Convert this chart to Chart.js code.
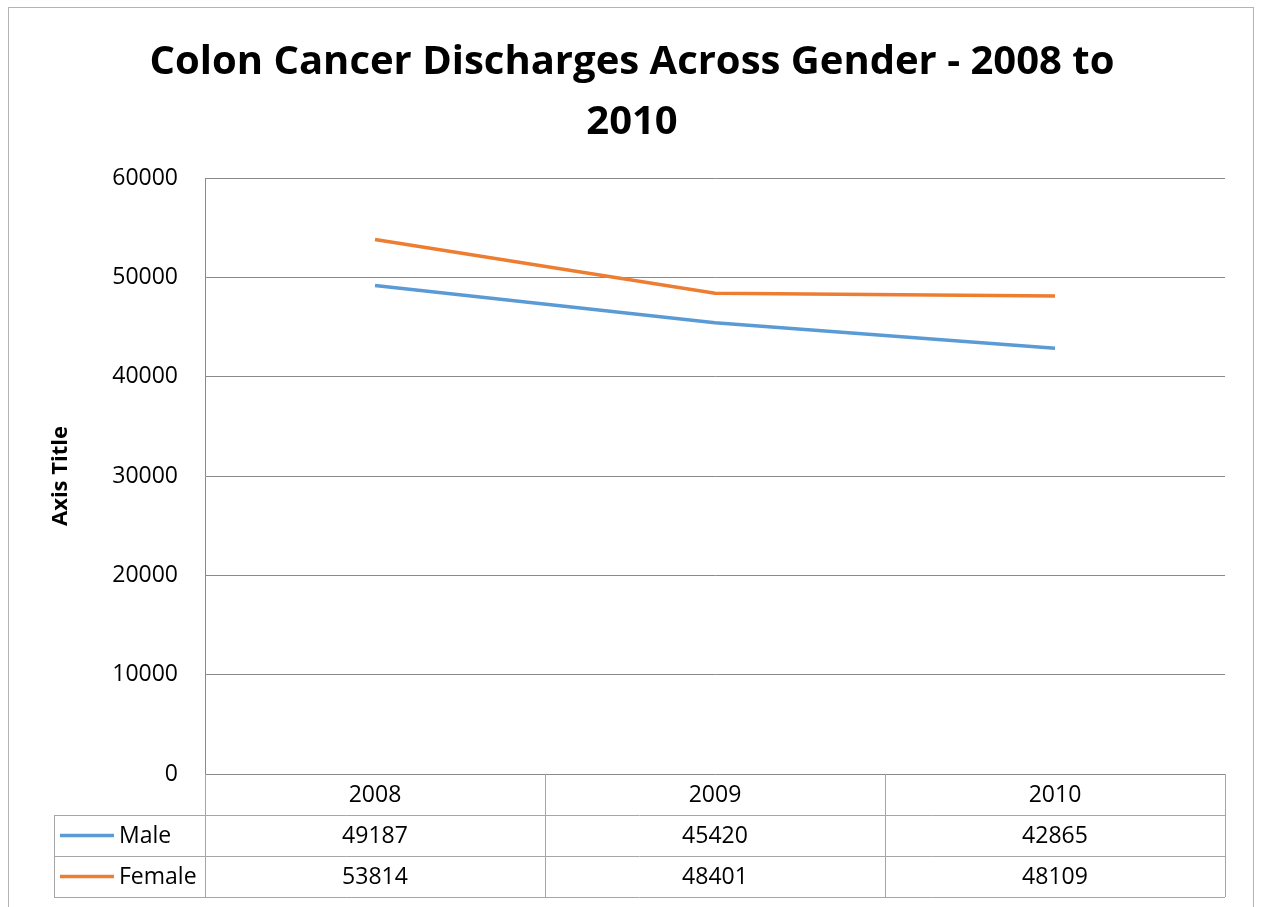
<!DOCTYPE html>
<html lang="en">
<head>
  <meta charset="UTF-8">
  <title>Colon Cancer Discharges Across Gender</title>
  <script src="https://cdn.jsdelivr.net/npm/chart.js"></script>
  <style>
    html, body { margin: 0; padding: 0; background: #fff; }
    #wrap { width: 1261px; height: 907px; position: relative; }
  </style>
</head>
<body>
  <div id="wrap"><canvas id="chart" width="1261" height="907"></canvas></div>

  <script>
    const years = ['2008', '2009', '2010'];
    const male = [49187, 45420, 42865];
    const female = [53814, 48401, 48109];
    const yTicks = [0, 10000, 20000, 30000, 40000, 50000, 60000];
    const titleLines = ['Colon Cancer Discharges Across Gender - 2008 to', '2010'];

    const series = [
      { name: 'Male', values: male, color: '#5B9BD5' },
      { name: 'Female', values: female, color: '#ED7D31' }
    ];

    const textFont = '23px "Open Sans", "Liberation Sans", sans-serif';
    const gridColor = '#8a8a8a';
    const tableColor = '#a6a6a6';

    // frame, title, axis title and the data table under the plot
    const excelBits = {
      id: 'excelBits',
      beforeDraw(chart) {
        const ctx = chart.ctx;
        ctx.save();
        ctx.fillStyle = '#fff';
        ctx.fillRect(0, 0, chart.width, chart.height);
        ctx.strokeStyle = '#b4b4b4';
        ctx.lineWidth = 1;
        ctx.strokeRect(8.5, 7.5, 1245, 960);
        ctx.restore();
      },
      afterDraw(chart) {
        const ctx = chart.ctx;
        const area = chart.chartArea;
        const x = chart.scales.x;
        const colW = (area.right - area.left) / years.length;
        const rowH = 41;
        const legendLeft = 54;

        ctx.save();
        // title
        ctx.fillStyle = '#000';
        ctx.textAlign = 'center';
        ctx.textBaseline = 'alphabetic';
        ctx.font = 'bold 40px "Open Sans", sans-serif';
        ctx.fillText(titleLines[0], 632, 74);
        ctx.fillText(titleLines[1], 632, 134);

        // rotated axis title
        ctx.save();
        ctx.translate(67, (area.top + area.bottom) / 2);
        ctx.rotate(-Math.PI / 2);
        ctx.font = 'bold 22px "Open Sans", sans-serif';
        ctx.textBaseline = 'alphabetic';
        ctx.fillText('Axis Title', 0, 0);
        ctx.restore();

        // table grid
        ctx.strokeStyle = tableColor;
        ctx.lineWidth = 1;
        ctx.beginPath();
        for (let r = 1; r <= series.length + 1; r++) {
          const y = Math.round(area.bottom + r * rowH) + 0.5;
          ctx.moveTo(legendLeft, y);
          ctx.lineTo(area.right, y);
        }
        for (let c = 0; c <= years.length; c++) {
          const xx = Math.round(area.left + c * colW) + 0.5;
          ctx.moveTo(xx, area.bottom);
          ctx.lineTo(xx, area.bottom + rowH * (series.length + 1));
        }
        ctx.moveTo(legendLeft + 0.5, area.bottom + rowH);
        ctx.lineTo(legendLeft + 0.5, area.bottom + rowH * (series.length + 1));
        ctx.stroke();

        // table text
        ctx.fillStyle = '#000';
        ctx.font = textFont;
        ctx.textBaseline = 'middle';
        ctx.textAlign = 'center';
        years.forEach((yr, i) => {
          ctx.fillText(yr, x.getPixelForValue(i), area.bottom + rowH / 2 + 1);
        });
        series.forEach((s, r) => {
          const cy = area.bottom + rowH * (r + 1) + rowH / 2 + 1;
          s.values.forEach((v, i) => {
            ctx.textAlign = 'center';
            ctx.fillText(String(v), x.getPixelForValue(i), cy);
          });
          ctx.strokeStyle = s.color;
          ctx.lineWidth = 3.5;
          ctx.beginPath();
          ctx.moveTo(60, cy - 1);
          ctx.lineTo(114, cy - 1);
          ctx.stroke();
          ctx.textAlign = 'left';
          ctx.fillText(s.name, 119, cy);
        });
        ctx.restore();
      }
    };

    new Chart(document.getElementById('chart'), {
      type: 'line',
      data: {
        labels: years,
        datasets: series.map(s => ({
          label: s.name,
          data: s.values,
          borderColor: s.color,
          backgroundColor: s.color,
          borderWidth: 3.5,
          pointRadius: 0,
          tension: 0
        }))
      },
      options: {
        responsive: false,
        animation: false,
        layout: { padding: { top: 178, right: 36, bottom: 133, left: 0 } },
        plugins: {
          legend: { display: false },
          title: { display: false },
          tooltip: { enabled: false }
        },
        scales: {
          x: { display: false, offset: true },
          y: {
            min: 0,
            max: 60000,
            afterFit(scale) { scale.width = 205; },
            afterBuildTicks(scale) { scale.ticks = yTicks.map(v => ({ value: v })); },
            ticks: {
              padding: 27,
              color: '#000',
              callback: v => String(v),
              font: { family: '"Open Sans", "Liberation Sans", sans-serif', size: 23 }
            },
            grid: { color: gridColor, drawTicks: false, lineWidth: 1 },
            border: { color: gridColor, width: 1 }
          }
        }
      },
      plugins: [excelBits]
    });
  </script>
</body>
</html>
